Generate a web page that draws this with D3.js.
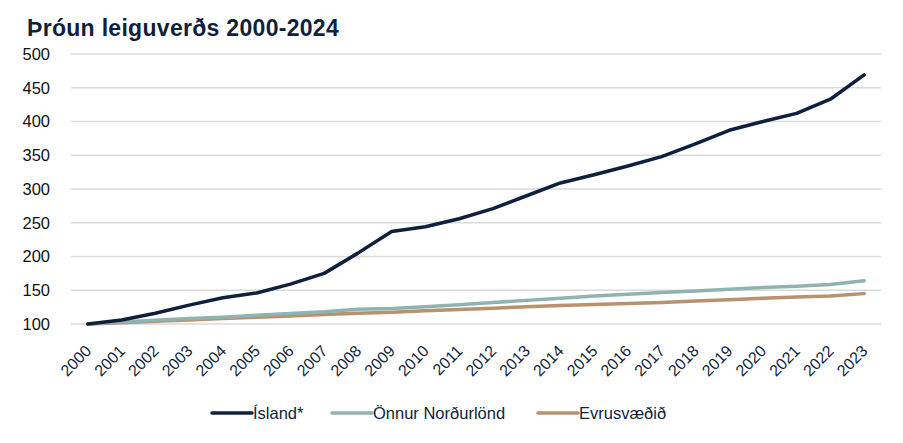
<!DOCTYPE html>
<html>
<head>
<meta charset="utf-8">
<script src="https://cdn.jsdelivr.net/npm/d3@7"></script>
<style>
  html, body { margin: 0; padding: 0; background: #fff; }
  svg { display: block; font-family: "Liberation Sans", Arial, Helvetica, sans-serif; }
</style>
</head>
<body>
<svg id="chart" width="903" height="443"></svg>
<script>
const title = "Þróun leiguverðs 2000-2024";
const years = ["2000","2001","2002","2003","2004","2005","2006","2007","2008","2009","2010","2011","2012","2013","2014","2015","2016","2017","2018","2019","2020","2021","2022","2023"];
const island = [100,106,116,128,139,146,159,175,205,237,244,256,271,290,309,321,334,348,367,387,400,412,433,469];
const nordurlond = [100,103,105.5,108,110,113,115.5,118,122,123,125.5,128.5,132,135,138,141.5,144,146.5,149,151.5,154,156,158.5,164];
const evrusvaedid = [100,102,104,106,108,110,112,114,116,117.5,119.5,121.5,123.5,125.5,127.5,129,130.5,132,134,136,138,140,141.5,145];
const yTicks = [100,150,200,250,300,350,400,450,500];
const seriesNames = ["Ísland*", "Önnur Norðurlönd", "Evrusvæðið"];
const seriesColors = ["#0f1f3d", "#8fb3b0", "#b8916e"];

const series = [island, nordurlond, evrusvaedid].map((vals, i) => ({
  name: seriesNames[i], color: seriesColors[i], values: vals
}));

const svg = d3.select("#chart");
const plotL = 71, plotR = 881, plotT = 54, plotB = 324;

const x = d3.scalePoint().domain(years).range([plotL, plotR]).padding(0.5);
const y = d3.scaleLinear().domain([100, 500]).range([plotB, plotT]);

// title
svg.append("text")
  .attr("x", 27).attr("y", 36)
  .attr("font-size", 23).attr("font-weight", "bold")
  .attr("letter-spacing", 0.3)
  .attr("fill", "#0f1f3d")
  .text(title);

// gridlines
svg.append("g").selectAll("line").data(yTicks).join("line")
  .attr("x1", plotL).attr("x2", plotR)
  .attr("y1", d => y(d)).attr("y2", d => y(d))
  .attr("stroke", "#d9d9d9").attr("stroke-width", 1.5);

// y axis labels
const yAxis = d3.axisLeft(y).tickValues(yTicks).tickSize(0).tickPadding(0);
const gy = svg.append("g").attr("transform", `translate(50,0)`).call(yAxis);
gy.select(".domain").remove();
gy.selectAll("text").attr("font-size", 16.5).attr("fill", "#111").attr("font-family", "Liberation Sans, Arial, sans-serif");

// x axis labels
const xAxis = d3.axisBottom(x).tickSize(0).tickPadding(0);
const gx = svg.append("g").attr("transform", `translate(0,${plotB})`).call(xAxis);
gx.select(".domain").remove();
gx.selectAll("text")
  .attr("font-size", 16).attr("fill", "#0f1f3d")
  .attr("font-family", "Liberation Sans, Arial, sans-serif")
  .attr("text-anchor", "end")
  .attr("dy", null)
  .attr("transform", "translate(4,28) rotate(-45)");

// lines
const line = d3.line().x((d, i) => x(years[i])).y(d => y(d));
svg.append("g").selectAll("path").data(series.slice().reverse()).join("path")
  .attr("d", d => line(d.values))
  .attr("fill", "none")
  .attr("stroke", d => d.color)
  .attr("stroke-width", 3.5)
  .attr("stroke-linejoin", "round")
  .attr("stroke-linecap", "round");

// legend
const legendX = [212, 332, 538];
const legendY = 413;
const lg = svg.append("g").selectAll("g").data(series).join("g")
  .attr("transform", (d, i) => `translate(${legendX[i]},${legendY})`);
lg.append("line").attr("x1", 0).attr("x2", 40).attr("y1", 0).attr("y2", 0)
  .attr("stroke", d => d.color).attr("stroke-width", 3.5).attr("stroke-linecap", "round");
lg.append("text").attr("x", 41).attr("y", 6)
  .attr("font-size", 16.5).attr("fill", "#0f1f3d")
  .text(d => d.name);
</script>
</body>
</html>
